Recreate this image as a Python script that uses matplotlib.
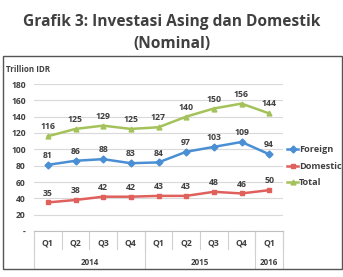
import matplotlib.pyplot as plt
from matplotlib.patches import Rectangle
from matplotlib.lines import Line2D

quarters = ["Q1", "Q2", "Q3", "Q4", "Q1", "Q2", "Q3", "Q4", "Q1"]
years = ["2014", "2015", "2016"]
year_len = [4, 4, 1]
foreign = [81, 86, 88, 83, 84, 97, 103, 109, 94]
domestic = [35, 38, 42, 42, 43, 43, 48, 46, 50]
total = [116, 125, 129, 125, 127, 140, 150, 156, 144]

plt.rcParams['font.family'] = ['Open Sans', 'DejaVu Sans']
txt = "#404040"

fig = plt.figure(figsize=(3.43, 2.77), dpi=100)
fig.text(0.5, 1 - 22/277, "Grafik 3: Investasi Asing dan Domestik", ha="center", va="center",
         fontsize=11.2, fontweight="bold", color=txt)
fig.text(0.5, 1 - 44/277, "(Nominal)", ha="center", va="center",
         fontsize=11.2, fontweight="bold", color=txt)

# outer chart box
fig.patches.append(Rectangle((3/343, 1-269/277), 339/343, 213/277, transform=fig.transFigure,
                             fill=False, edgecolor="#555555", lw=1.0))
fig.text(6/343, 1-70/277, "Trillion IDR", fontsize=5.8, fontweight="bold", color=txt, va="center")

ax = fig.add_axes([34/343, 1-231/277, 249/343, 147/277])
x = list(range(len(quarters)))
series = [(foreign, "Foreign", "#4A8FD4", "D"),
          (domestic, "Domestic", "#E0605C", "s"),
          (total, "Total", "#A4C25A", "^")]
for vals, name, col, m in series:
    ax.plot(x, vals, color=col, lw=1.8, marker=m, ms=3.5, label=name)
    for xi, v in zip(x, vals):
        ax.text(xi, v + 6, str(v), ha="center", va="bottom", fontsize=6.3,
                fontweight="bold", color=txt)

ax.set_xlim(-0.5, len(quarters) - 0.5)
ax.set_ylim(0, 180)
ax.set_yticks(range(0, 181, 20))
ax.set_yticklabels(["-"] + [str(v) for v in range(20, 181, 20)])
ax.tick_params(axis="y", length=0, labelsize=6.2, labelcolor=txt, pad=6)
for lab in ax.get_yticklabels():
    lab.set_fontweight("bold")
ax.grid(axis="y", color="#d9d9d9", lw=0.8)
ax.set_axisbelow(True)
for s in ["top", "right", "left"]:
    ax.spines[s].set_visible(False)
ax.spines["bottom"].set_color("#bfbfbf")
ax.set_xticks([])

# category axis: quarter labels and separators
for xi, q in zip(x, quarters):
    ax.text(xi, -14.5, q, ha="center", va="center", fontsize=6.2, fontweight="bold",
            color=txt, clip_on=False)
for i in range(len(quarters) + 1):
    ax.add_line(Line2D([i - 0.5, i - 0.5], [0, -22], color="#d0d0d0", lw=0.8, clip_on=False))
start = 0
for y, n in zip(years, year_len):
    ax.text(start + n / 2 - 0.5, -38, y, ha="center", va="center", fontsize=5.8,
            fontweight="bold", color=txt, clip_on=False)
    ax.add_line(Line2D([start - 0.5, start - 0.5], [0, -45], color="#d0d0d0", lw=0.8, clip_on=False))
    start += n
ax.add_line(Line2D([start - 0.5, start - 0.5], [0, -45], color="#d0d0d0", lw=0.8, clip_on=False))

ax.legend(loc="center left", bbox_to_anchor=(0.995, 0.44), frameon=False,
          handlelength=1.2, handletextpad=0.1, labelspacing=0.8, borderaxespad=0.2,
          labelcolor=txt, prop={"weight": "bold", "size": 6.6})

fig.savefig("out.png", dpi=100)
